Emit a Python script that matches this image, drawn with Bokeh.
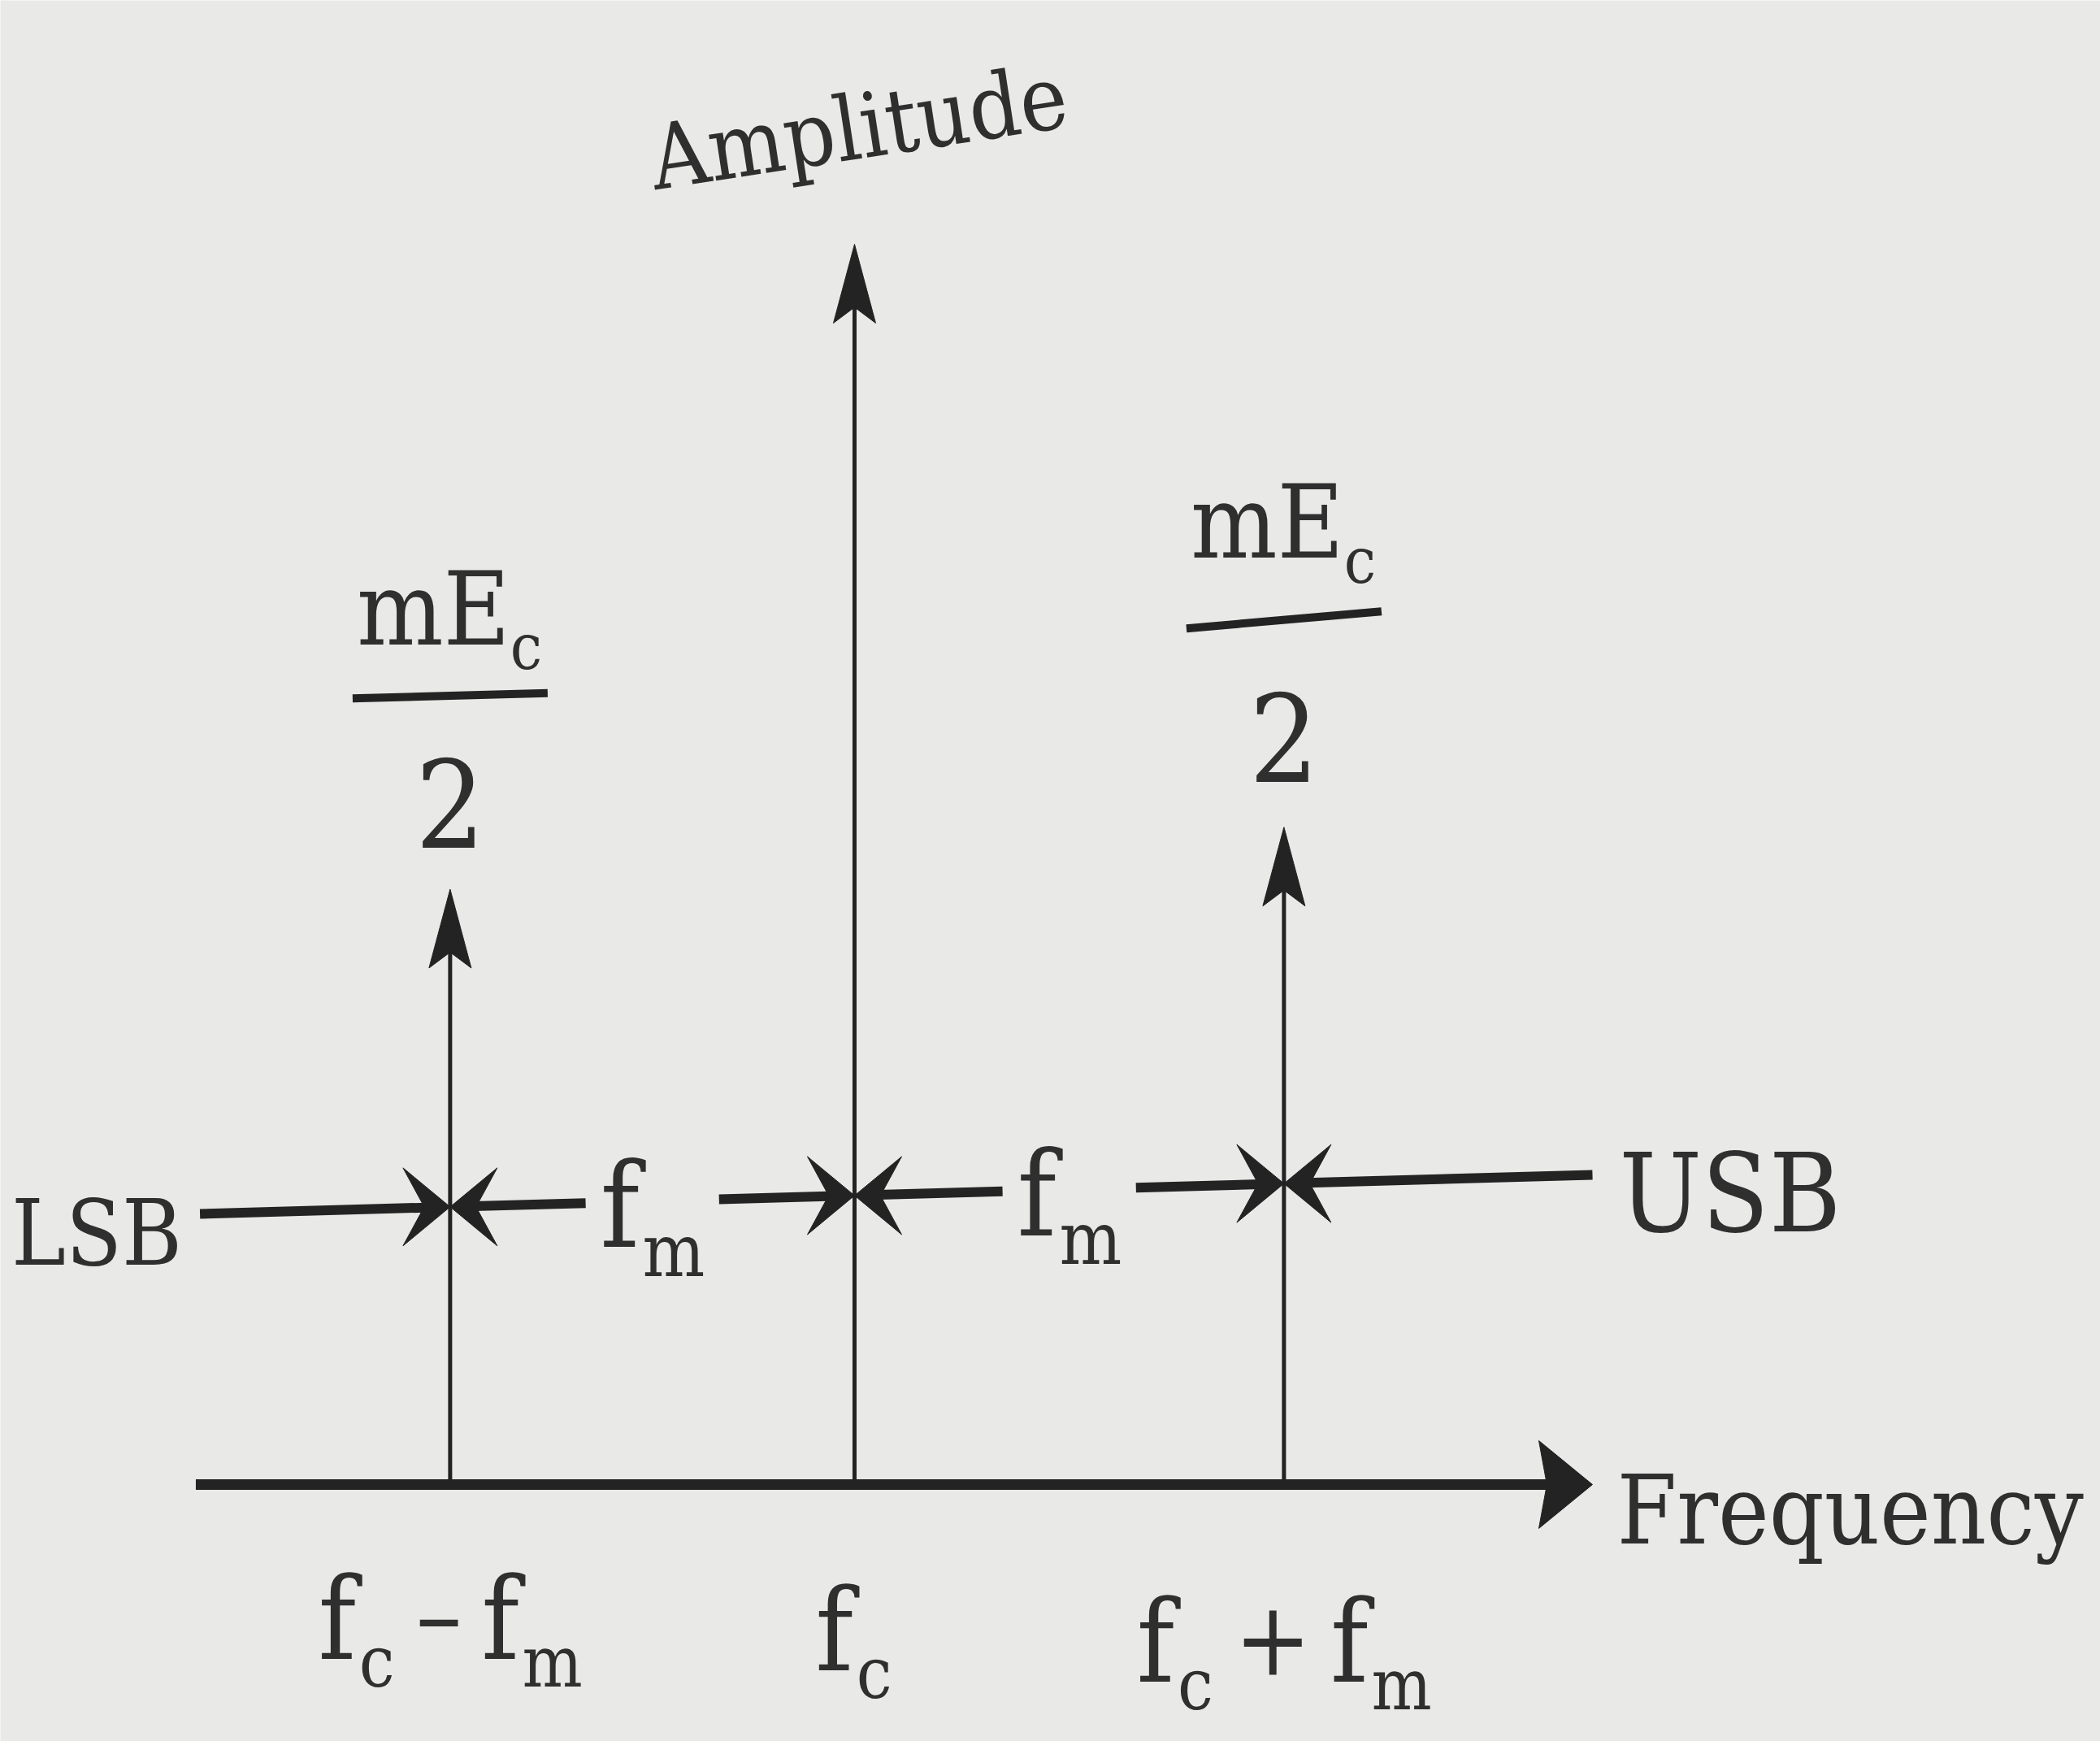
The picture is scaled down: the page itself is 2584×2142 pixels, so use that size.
from bokeh.plotting import figure
from bokeh.models import Range1d
from bokeh.core.properties import value
from bokeh.embed import file_html
from bokeh.resources import INLINE

# ---- AM spectrum: lower side frequency, carrier, upper side frequency ----
# frequency in multiples of fm measured from fc, amplitude relative to Ec
line_freq = [-0.97, 0.0, 1.03]
line_amp = [0.48, 1.0, 0.53]

# labels under the frequency axis, as (text, kind) runs: 0 normal, 1 subscript, 2 operator
freq_tick_labels = [
    [("f", 0), ("c", 1), ("\u2013", 2), ("f", 0), ("m", 1)],
    [("f", 0), ("c", 1)],
    [("f", 0), ("c", 1), ("+", 2), ("f", 0), ("m", 1)],
]
sideband_numerator = [("mE", 0), ("c", 1)]
sideband_denominator = "2"
spacing_label = [("f", 0), ("m", 1)]
x_title = "Frequency"
y_title = "Amplitude"
lower_name = "LSB"
upper_name = "USB"

# extent of the frequency axis and of the LSB/USB marker row (fm units)
axis_start, axis_end = -1.58, 1.77
row_start, row_end = -1.57, 1.77

# ---- canvas and coordinate helpers ----
W, H = 2584, 2142
X0, X1 = -2.0487, 2.9883
Y0, Y1 = -0.2071, 1.1966
SX = W / (X1 - X0)
SY = H / (Y1 - Y0)

FONT = "'DejaVu Serif Condensed', 'Liberation Serif', serif"
INK = "#232323"
TEXT = "#2f2f2f"
BG = "#e9e9e7"
BASE_FIX = 0.36  # em shift that puts the glyph baseline where it is asked for


def to_x(px):
    return X0 + px / SX


def to_y(py):
    return Y1 - py / SY


def px_of(x):
    return (x - X0) * SX


def py_of(y):
    return (Y1 - y) * SY


def row_y(x):
    # the marker row runs very slightly uphill
    return 0.2330 + 0.00941 * x


p = figure(width=W, height=H, x_range=Range1d(X0, X1), y_range=Range1d(Y0, Y1),
           output_backend="svg", toolbar_location=None, min_border=0,
           x_axis_location=None, y_axis_location=None)
p.grid.visible = False
p.outline_line_color = None
p.background_fill_color = BG
p.border_fill_color = BG


def label(x_px, base_px, text, size, align="left", angle=0.0):
    p.text(x=[to_x(x_px)], y=[to_y(base_px - BASE_FIX * size)], text=[text],
           text_font=value(FONT), text_font_size=f"{size:.0f}px", text_align=align,
           text_baseline="alphabetic", text_color=TEXT, angle=angle, angle_units="deg")


def head(tip_x, tip_y, d, length, width, notch):
    """Filled arrowhead polygon; d is the screen direction of travel (y down)."""
    tx, ty = px_of(tip_x), py_of(tip_y)
    dx, dy = d
    qx, qy = -dy, dx
    pts = [
        (tx, ty),
        (tx - length * dx + width / 2 * qx, ty - length * dy + width / 2 * qy),
        (tx - (1 - notch) * length * dx, ty - (1 - notch) * length * dy),
        (tx - length * dx - width / 2 * qx, ty - length * dy - width / 2 * qy),
    ]
    return [to_x(a) for a, _ in pts], [to_y(b) for _, b in pts]


# approximate advance widths (em) of the condensed serif face
ADV = {"f": 0.36, "c": 0.53, "m": 0.85, "E": 0.66, "\u2013": 0.45, "+": 0.75, "2": 0.57}
SUB_SCALE = 0.62
SUB_DROP = 0.24
OP_SCALE = 0.9
OP_PAD = 0.17


def draw_runs(runs, cx_px, base_px, size):
    items = []
    for t, kind in runs:
        s = size * (SUB_SCALE if kind == 1 else OP_SCALE if kind == 2 else 1.0)
        w = sum(ADV.get(ch, 0.55) for ch in t) * s
        pad = OP_PAD * size if kind == 2 else 0.0
        items.append((t, kind, s, w, pad))
    total = sum(w + 2 * pad for *_, w, pad in items)
    x = cx_px - total / 2
    for t, kind, s, w, pad in items:
        x += pad
        y = base_px + (SUB_DROP * size if kind == 1 else -0.08 * size if kind == 2 else 0)
        label(x, y, t, s)
        x += w + pad


# ---- spectral lines with arrowheads ----
V_LEN, V_WID = 97, 52
xs, ys = [], []
for f, a in zip(line_freq, line_amp):
    p.segment(x0=[f], y0=[0], x1=[f], y1=[a - 0.7 * V_LEN / SY], line_color=INK, line_width=5)
    hx, hy = head(f, a, (0, -1), V_LEN, V_WID, 0.2)
    xs.append(hx)
    ys.append(hy)
p.patches(xs=xs, ys=ys, fill_color=INK, line_color=INK, line_width=1)

# ---- frequency axis ----
A_LEN, A_WID = 66, 108
p.segment(x0=[axis_start], y0=[0], x1=[axis_end - 0.6 * A_LEN / SX], y1=[0],
          line_color=INK, line_width=13)
hx, hy = head(axis_end, 0, (1, 0), A_LEN, A_WID, 0.15)
p.patch(x=hx, y=hy, fill_color=INK, line_color=INK)

# ---- LSB / fm / fm / USB marker row ----
R_LEN, R_WID = 58, 96
GAP = 0.16
mid01 = (line_freq[0] + line_freq[1]) / 2
mid12 = (line_freq[1] + line_freq[2]) / 2
runs = [
    (row_start, line_freq[0]),
    (mid01 - GAP, line_freq[0]),
    (mid01 + GAP, line_freq[1]),
    (mid12 - GAP, line_freq[1]),
    (mid12 + GAP, line_freq[2]),
    (row_end, line_freq[2]),
]
hxs, hys = [], []
for s, t in runs:
    sign = 1 if t > s else -1
    e = t - sign * 0.5 * R_LEN / SX
    p.segment(x0=[s], y0=[row_y(s)], x1=[e], y1=[row_y(e)], line_color=INK, line_width=12)
    hx, hy = head(t, row_y(t), (sign, 0), R_LEN, R_WID, 0.45)
    hxs.append(hx)
    hys.append(hy)
p.patches(xs=hxs, ys=hys, fill_color=INK, line_color=INK, line_width=1)

# fm spacing labels in the gaps
for m in (mid01, mid12):
    draw_runs(spacing_label, px_of(m), py_of(row_y(m)) + 58, 145)

# LSB / USB names at the ends of the row
label(px_of(row_start) - 22, py_of(row_y(row_start)) + 64, lower_name, 112, align="right")
label(px_of(row_end) + 33, py_of(row_y(row_end)) + 72, upper_name, 134)

# ---- axis titles ----
label(px_of(axis_end) + 30, py_of(0) + 74, x_title, 118)
label(px_of(line_freq[1]) + 5, py_of(line_amp[1]) - 104, y_title, 110, align="center", angle=8.7)

# ---- frequency labels under the axis ----
for f, lab in zip(line_freq, freq_tick_labels):
    draw_runs(lab, px_of(f), py_of(0) + 230 + 14 * f, 140)

# ---- sideband amplitude fractions mEc / 2 ----
# per side: bar tilt (deg), numerator baseline, bar and denominator baseline above the tip (px)
fraction_style = {0: (1.5, 300, 238, 52), 2: (5.0, 330, 255, 56)}
for idx, (tilt, num_up, bar_up, den_up) in fraction_style.items():
    f, a = line_freq[idx], line_amp[idx]
    cx, tip = px_of(f), py_of(a)
    draw_runs(sideband_numerator, cx, tip - num_up, 125)
    half = 120
    drop = half * (tilt / 57.3)
    p.segment(x0=[to_x(cx - half)], y0=[to_y(tip - bar_up + drop)],
              x1=[to_x(cx + half)], y1=[to_y(tip - bar_up - drop)],
              line_color=INK, line_width=10)
    label(cx, tip - den_up, sideband_denominator, 150, align="center")

open("out.html", "w").write(file_html(p, INLINE))
